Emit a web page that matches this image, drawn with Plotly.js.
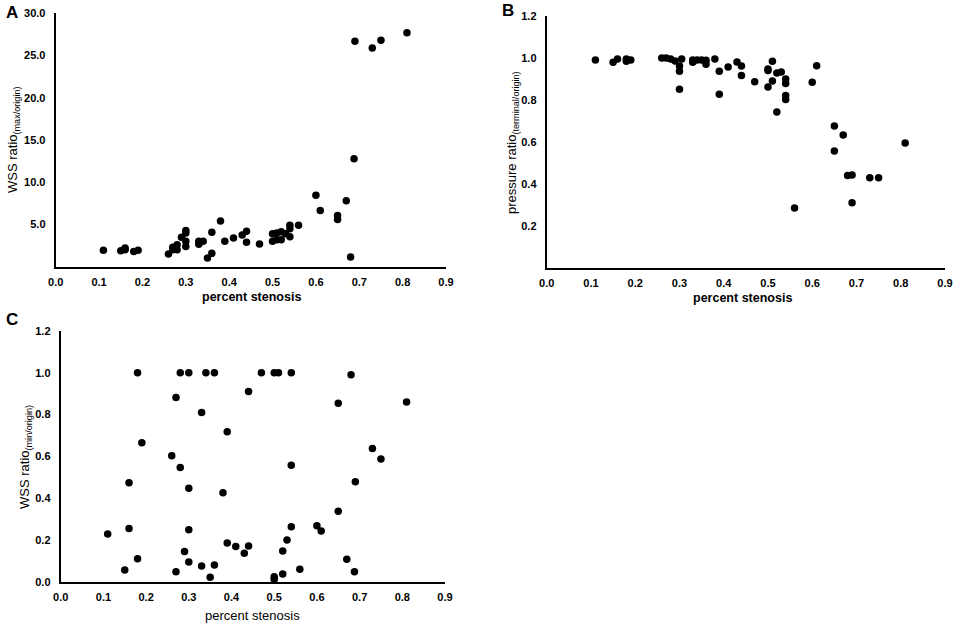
<!DOCTYPE html>
<html>
<head>
<meta charset="utf-8">
<script src="https://cdn.plot.ly/plotly-3.0.1.min.js"></script>
<style>html,body{margin:0;padding:0;background:#fff}#chart{width:957px;height:626px}</style>
</head>
<body>
<div id="chart"></div>
<script>
// Panel A: WSS ratio (max/origin)
const stenosisA = [0.11,0.15,0.16,0.16,0.18,0.19,0.26,0.27,0.27,0.28,0.28,0.29,0.30,0.30,0.30,0.30,0.33,0.33,0.34,0.35,0.36,0.36,0.38,0.39,0.41,0.43,0.44,0.44,0.47,0.50,0.50,0.51,0.51,0.52,0.52,0.53,0.54,0.54,0.54,0.56,0.60,0.61,0.65,0.65,0.67,0.68,0.688,0.69,0.73,0.75,0.81];
const wssMax = [1.94,1.9,2.0,2.2,1.8,1.94,1.5,2.3,2.0,2.6,2.0,3.5,4.3,4.0,3.0,2.4,3.0,2.65,3.0,1.03,4.07,1.58,5.4,3.0,3.4,3.75,4.2,2.9,2.7,3.9,3.0,4.0,3.2,4.15,3.2,3.9,4.9,4.5,3.55,4.9,8.46,6.64,6.05,5.6,7.8,1.15,12.77,26.7,25.9,26.8,27.7];

// Panel B: pressure ratio (terminal/origin)
const stenosisB = [0.11,0.15,0.16,0.18,0.18,0.19,0.26,0.27,0.28,0.29,0.30,0.30,0.30,0.305,0.33,0.33,0.34,0.35,0.36,0.36,0.38,0.39,0.39,0.41,0.43,0.44,0.44,0.47,0.50,0.50,0.50,0.51,0.51,0.52,0.52,0.53,0.54,0.54,0.54,0.54,0.56,0.60,0.61,0.65,0.65,0.67,0.68,0.69,0.69,0.73,0.75,0.81];
const pressureRatio = [0.99,0.98,0.995,0.995,0.984,0.99,1.0,1.0,0.995,0.986,0.962,0.937,0.851,0.995,0.99,0.98,0.99,0.99,0.989,0.97,0.995,0.937,0.827,0.957,0.981,0.962,0.917,0.887,0.948,0.94,0.862,0.984,0.89,0.929,0.743,0.933,0.9,0.879,0.822,0.802,0.286,0.884,0.963,0.676,0.557,0.633,0.441,0.443,0.311,0.43,0.43,0.595];

// Panel C: WSS ratio (min/origin)
const stenosisC = [0.11,0.15,0.16,0.16,0.18,0.18,0.19,0.26,0.27,0.27,0.28,0.28,0.29,0.30,0.30,0.30,0.30,0.33,0.33,0.34,0.35,0.36,0.36,0.38,0.39,0.39,0.41,0.43,0.44,0.44,0.47,0.50,0.50,0.50,0.51,0.52,0.52,0.53,0.54,0.54,0.54,0.56,0.60,0.61,0.65,0.65,0.67,0.68,0.688,0.69,0.73,0.75,0.81];
const wssMin = [0.228,0.056,0.474,0.255,1.0,0.11,0.665,0.603,0.882,0.048,1.0,0.547,0.145,1.0,0.447,0.249,0.094,0.81,0.075,1.0,0.021,1.0,0.08,0.426,0.718,0.185,0.168,0.136,0.91,0.171,1.0,1.0,0.024,0.011,1.0,0.147,0.037,0.2,1.0,0.557,0.263,0.059,0.268,0.243,0.854,0.337,0.107,0.99,0.048,0.479,0.638,0.587,0.86];

const xTicks = [0,0.1,0.2,0.3,0.4,0.5,0.6,0.7,0.8,0.9];
const yTicksA = [5,10,15,20,25,30];
const yTicksB = [0.2,0.4,0.6,0.8,1.0,1.2];
const yTicksC = [0,0.2,0.4,0.6,0.8,1.0,1.2];

const W = 957, H = 626;
const px = v => v / W;
const py = v => 1 - v / H;

const marker = {color: '#000', size: 7.5};
const tickFont = {family: 'Arial, Liberation Sans, sans-serif', size: 11, color: '#000', weight: 'bold'};

function xAxis(d0, d1, anchor) {
  return {domain: [px(d0), px(d1)], range: [0, 0.9], anchor: anchor,
    showline: true, linecolor: '#000', linewidth: 2, showgrid: false, zeroline: false,
    tickvals: xTicks, ticktext: xTicks.map(v => v.toFixed(1)), ticks: 'outside', ticklen: 4, tickcolor: 'rgba(0,0,0,0)',
    tickfont: tickFont, fixedrange: true};
}
function yAxis(top, bottom, range, vals, anchor) {
  return {domain: [py(bottom), py(top)], range: range, anchor: anchor,
    showline: true, linecolor: '#000', linewidth: 2, showgrid: false, zeroline: false,
    tickvals: vals, ticktext: vals.map(v => v.toFixed(1)), ticks: 'outside', ticklen: 6, tickcolor: 'rgba(0,0,0,0)',
    tickfont: tickFont, fixedrange: true};
}

const traces = [
  {x: stenosisA, y: wssMax, xaxis: 'x', yaxis: 'y', type: 'scatter', mode: 'markers', marker: marker, cliponaxis: false},
  {x: stenosisB, y: pressureRatio, xaxis: 'x2', yaxis: 'y2', type: 'scatter', mode: 'markers', marker: marker, cliponaxis: false},
  {x: stenosisC, y: wssMin, xaxis: 'x3', yaxis: 'y3', type: 'scatter', mode: 'markers', marker: marker, cliponaxis: false}
];

const ff = 'Arial, Liberation Sans, sans-serif';
const ann = (x, y, text, opts) => Object.assign({xref: 'paper', yref: 'paper', x: px(x), y: py(y), text: text, showarrow: false,
  xanchor: 'center', yanchor: 'middle', font: {family: ff, size: 13, color: '#000'}}, opts || {});

const layout = {
  width: W, height: H, margin: {l: 0, r: 0, t: 0, b: 0}, paper_bgcolor: '#fff', plot_bgcolor: '#fff',
  showlegend: false,
  xaxis: xAxis(55.7, 446, 'y'),
  yaxis: yAxis(13.3, 266.7, [0, 30], yTicksA, 'x'),
  xaxis2: xAxis(546.7, 945, 'y2'),
  yaxis2: yAxis(16, 268, [0, 1.2], yTicksB, 'x2'),
  xaxis3: xAxis(60.7, 445, 'y3'),
  yaxis3: yAxis(331, 581.7, [0, 1.2], yTicksC, 'x3'),
  annotations: [
    ann(12, 12, 'A', {font: {family: ff, size: 17, color: '#000', weight: 'bold'}}),
    ann(508, 11, 'B', {font: {family: ff, size: 17, color: '#000', weight: 'bold'}}),
    ann(12, 319, 'C', {font: {family: ff, size: 17, color: '#000', weight: 'bold'}}),
    ann(251, 297, 'percent stenosis', {font: {family: ff, size: 12.5, color: '#000', weight: 'bold'}}),
    ann(742, 298, 'percent stenosis', {font: {family: ff, size: 12.5, color: '#000', weight: 'bold'}}),
    ann(252, 615, 'percent stenosis', {font: {family: ff, size: 13, color: '#000'}}),
    ann(13, 140, 'WSS ratio<sub>(max/origin)</sub>', {textangle: -90}),
    ann(512, 143, 'pressure ratio<sub>(terminal/origin)</sub>', {textangle: -90}),
    ann(25, 457, 'WSS ratio<sub>(min/origin)</sub>', {textangle: -90})
  ]
};

Plotly.newPlot('chart', traces, layout, {displayModeBar: false, staticPlot: true});
</script>
</body>
</html>
